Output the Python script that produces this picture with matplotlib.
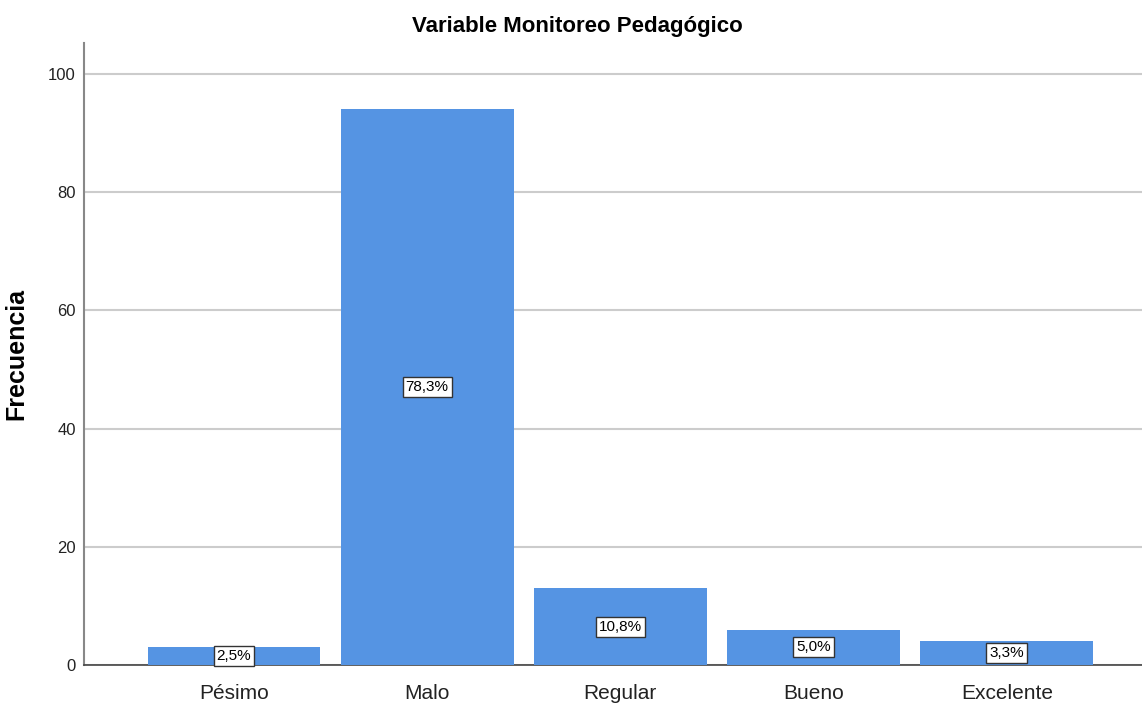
import matplotlib.pyplot as plt

# Datos
categorias = ['Pésimo', 'Malo', 'Regular', 'Bueno', 'Excelente']
frecuencias = [3, 94, 13, 6, 4]
porcentajes = ['2,5%', '78,3%', '10,8%', '5,0%', '3,3%']

plt.rcParams['font.family'] = ['Liberation Sans', 'DejaVu Sans']

fig = plt.figure(figsize=(11.42, 7.07), dpi=100)
ax = fig.add_axes([0.0736, 0.0594, 0.9264, 0.8796])

x = range(len(categorias))
ax.bar(x, frecuencias, width=0.895, color='#5594e3', zorder=3)

# Etiquetas de porcentaje en el centro de cada barra
for i, (f, p) in enumerate(zip(frecuencias, porcentajes)):
    ax.text(i, f / 2, p, ha='center', va='center', fontsize=11, zorder=4,
            bbox=dict(boxstyle='square,pad=0.2', facecolor='white',
                      edgecolor='#333333', linewidth=1))

ax.set_xlim(-0.776, 4.70)
ax.set_ylim(0, 105.2)
ax.set_yticks([0, 20, 40, 60, 80, 100])
ax.set_xticks(list(x))
ax.set_xticklabels(categorias, fontsize=15)
ax.tick_params(axis='y', labelsize=12, length=0, pad=6, colors='#222222')
ax.tick_params(axis='x', length=0, pad=14, colors='#222222')

ax.yaxis.grid(True, color='#cccccc', linewidth=1.5, zorder=0)
ax.set_axisbelow(True)

ax.spines['top'].set_visible(False)
ax.spines['right'].set_visible(False)
ax.spines['left'].set_color('#888888')
ax.spines['left'].set_linewidth(1.5)
ax.spines['bottom'].set_color('#444444')
ax.spines['bottom'].set_linewidth(1.2)

ax.set_ylabel('Frecuencia', fontsize=18, fontweight='bold', labelpad=14)
fig.text(0.506, 0.962, 'Variable Monitoreo Pedagógico', fontsize=16,
         fontweight='bold', ha='center', va='center')

fig.savefig('out.png', dpi=100)
